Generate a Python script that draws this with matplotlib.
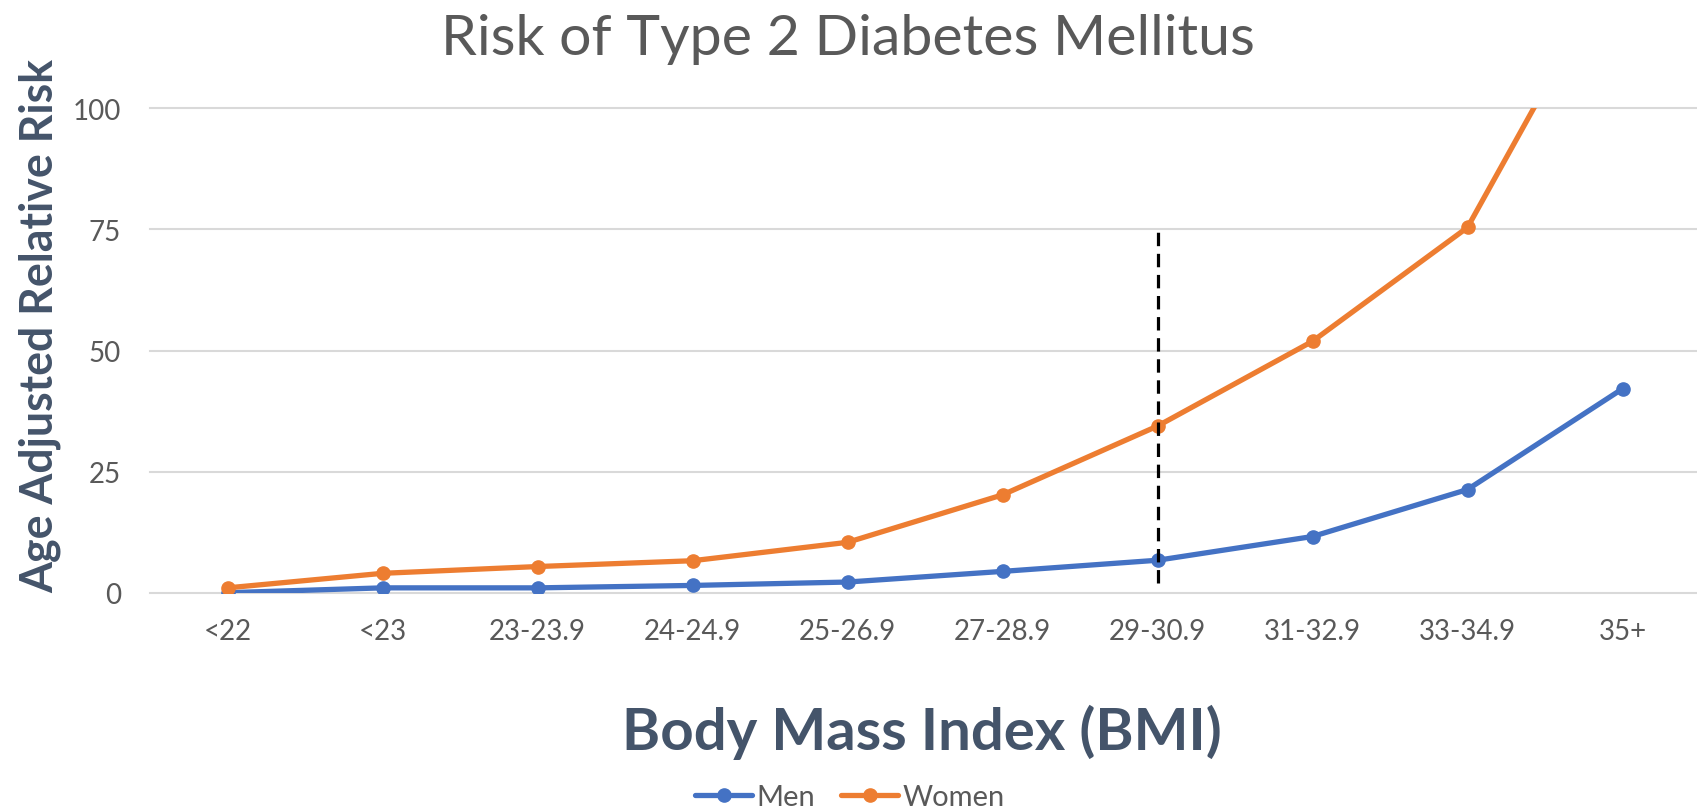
import matplotlib
matplotlib.use("Agg")
import matplotlib.pyplot as plt

# BMI categories and age-adjusted relative risk of type 2 diabetes
categories = ['<22', '<23', '23-23.9', '24-24.9', '25-26.9',
              '27-28.9', '29-30.9', '31-32.9', '33-34.9', '35+']
men = [0.0, 1.0, 1.0, 1.5, 2.2, 4.4, 6.7, 11.6, 21.3, 42.1]
women = [1.0, 4.0, 5.4, 6.6, 10.4, 20.2, 34.4, 51.9, 75.4, 133.0]
y_ticks = [0, 25, 50, 75, 100]
threshold_category = '29-30.9'
threshold_span = (2, 75)

FONT = ['Lato', 'DejaVu Sans']
GREY = '#595959'
SLATE = '#44546a'
BLUE = '#4472c4'
ORANGE = '#ed7d31'

W, H = 1697, 812
fig = plt.figure(figsize=(W / 100, H / 100), dpi=100)
plt.rcParams['font.family'] = FONT

# axes box in pixels: left 150, right 1697, top (100) 109, bottom (0) 594
left, right, top, bottom = 150, 1697, 109.3, 593.7
ax = fig.add_axes([left / W, 1 - bottom / H, (right - left) / W, (bottom - top) / H])

x = list(range(len(categories)))
step_px = 155.0
ax.set_xlim(-0.5, -0.5 + (right - left) / step_px)
ax.set_ylim(0, 100)

for v in y_ticks:
    ax.axhline(v, color='#d9d9d9', lw=1.5, zorder=0, clip_on=False)

ax.plot(x, men, color=BLUE, lw=3.8, marker='o', ms=9.5, label='Men',
        solid_capstyle='round', zorder=3)
ax.plot(x, women, color=ORANGE, lw=3.8, marker='o', ms=9.5, label='Women',
        solid_capstyle='round', zorder=3)

xi = categories.index(threshold_category)
ax.vlines(xi, threshold_span[0], threshold_span[1], colors='black', lw=2.3,
          linestyles=(0, (4.2, 2.4)), zorder=4)

for s in ax.spines.values():
    s.set_visible(False)

ax.set_xticks(x)
ax.set_xticklabels(categories)
ax.set_yticks(y_ticks)
ax.tick_params(axis='both', length=0, labelsize=20, labelcolor=GREY)
ax.tick_params(axis='x', pad=18)
ax.tick_params(axis='y', pad=21)
for lab in ax.get_xticklabels() + ax.get_yticklabels():
    lab.set_family(FONT)

title = fig.text(848 / W, 1 - 55 / H, 'Risk of Type 2 Diabetes Mellitus',
                 ha='center', va='baseline', color=GREY, fontsize=38, family=FONT)
xlab = fig.text(922 / W, 1 - 750 / H, 'Body Mass Index (BMI)',
                ha='center', va='baseline', color=SLATE, fontsize=34,
                fontweight='bold', family=FONT)
ylab = fig.text(40 / W, 1 - 326 / H, 'Age Adjusted Relative Risk',
                ha='center', va='center', rotation=90, color=SLATE,
                fontsize=30, fontweight='bold', family=FONT)

leg = fig.legend(loc='center', bbox_to_anchor=(850 / W, 1 - 798 / H),
                 ncol=2, frameon=False, handlelength=1.95,
                 handletextpad=0.15, columnspacing=0.9,
                 prop={'family': FONT, 'size': 21})
for t in leg.get_texts():
    t.set_color(GREY)


def fit(text, target_px, vertical=False):
    fig.canvas.draw()
    r = fig.canvas.get_renderer()
    bb = text.get_window_extent(r)
    cur = bb.height if vertical else bb.width
    text.set_fontsize(text.get_fontsize() * target_px / cur)


fit(title, 813)
fit(xlab, 600)
fit(ylab, 534, vertical=True)

fig.savefig('out.png', dpi=100)
